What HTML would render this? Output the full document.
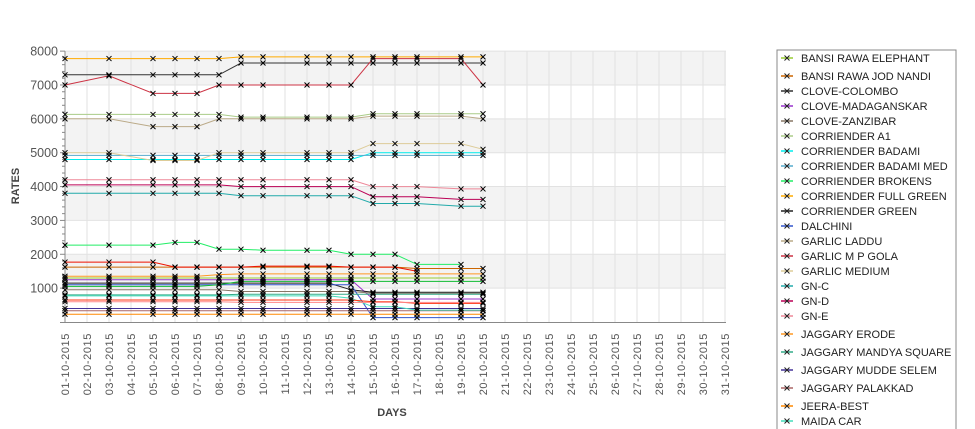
<!DOCTYPE html>
<html><head><meta charset="utf-8">
<style>
html,body{margin:0;padding:0;background:#fff;}
svg{display:block;font-family:"Liberation Sans","DejaVu Sans",sans-serif;}
</style></head>
<body>
<svg id="chart" width="975" height="429" viewBox="0 0 975 429" xmlns="http://www.w3.org/2000/svg">
  <g id="bands"></g>
  <g id="grid"></g>
  <g id="yaxis"></g>
  <g id="xaxis"></g>
  <g id="series"></g>
  <text x="19" y="186" transform="rotate(-90 19 186)" text-anchor="middle" font-size="11" font-weight="bold" fill="#444">RATES</text>
  <text x="392" y="416" text-anchor="middle" font-size="11" font-weight="bold" fill="#444">DAYS</text>
  <rect x="777" y="50" width="179" height="390" fill="#fff" stroke="#888" stroke-width="1"/>
  <g id="legend"></g>
</svg>
<script>
const dayLabels = ["01-10-2015","02-10-2015","03-10-2015","04-10-2015","05-10-2015","06-10-2015","07-10-2015","08-10-2015","09-10-2015","10-10-2015","11-10-2015","12-10-2015","13-10-2015","14-10-2015","15-10-2015","16-10-2015","17-10-2015","18-10-2015","19-10-2015","20-10-2015","21-10-2015","22-10-2015","23-10-2015","24-10-2015","25-10-2015","26-10-2015","27-10-2015","28-10-2015","29-10-2015","30-10-2015","31-10-2015"];
const dataDays = [1,3,5,6,7,8,9,10,12,13,14,15,16,17,19,20];
const yTicks = [1000,2000,3000,4000,5000,6000,7000,8000];
const seriesNames = ["BANSI RAWA ELEPHANT","BANSI RAWA JOD NANDI","CLOVE-COLOMBO","CLOVE-MADAGANSKAR","CLOVE-ZANZIBAR","CORRIENDER A1","CORRIENDER BADAMI","CORRIENDER BADAMI MED","CORRIENDER BROKENS","CORRIENDER FULL GREEN","CORRIENDER GREEN","DALCHINI","GARLIC LADDU","GARLIC M P GOLA","GARLIC MEDIUM","GN-C","GN-D","GN-E","JAGGARY ERODE","JAGGARY MANDYA SQUARE","JAGGARY MUDDE SELEM","JAGGARY PALAKKAD","JEERA-BEST","MAIDA CAR","EXTRA-1","EXTRA-2","EXTRA-3","EXTRA-4"];
const seriesColors = ["#99cc33","#cc6600","#333333","#9933cc","#887766","#aacc88","#00eeee","#55aacc","#22ee66","#ffaa00","#222222","#3355cc","#bbaa88","#cc3344","#ddcc99","#22aaaa","#bb0055","#ee8899","#ff9922","#33aa88","#443399","#aa6666","#ff8800","#44ddbb","#ee1100","#ff3311","#11bb33","#ff8888"];
const v01 = [1300,1300,1300,1300,1300,1300,1300,1300,1300,1300,1300,1300,1300,1300,1300,1300];
const v02 = [1620,1620,1620,1620,1620,1620,1620,1620,1620,1620,1620,1620,1620,1580,1580,1580];
const v03 = [7300,7300,7300,7300,7300,7300,7650,7650,7650,7650,7650,7650,7650,7650,7650,7650];
const v04 = [1250,1250,1250,1250,1250,1250,1250,1250,1250,1250,1250,680,680,680,680,680];
const v05 = [950,950,950,950,950,950,900,900,900,900,900,850,850,850,850,850];
const v06 = [6130,6130,6130,6130,6130,6130,6050,6050,6050,6050,6050,6150,6150,6150,6150,6150];
const v07 = [4800,4800,4800,4800,4800,4800,4800,4800,4800,4800,4800,5000,5000,5000,5000,5000];
const v08 = [4920,4920,4920,4920,4920,4920,4920,4920,4920,4920,4920,4920,4920,4920,4920,4920];
const v09 = [2270,2270,2270,2350,2350,2150,2150,2120,2120,2120,2000,2000,2000,1700,1700,null];
const v10 = [7780,7780,7780,7780,7780,7780,7830,7830,7830,7830,7830,7830,7830,7830,7830,7830];
const v11 = [1150,1150,1150,1150,1150,1150,1150,1150,1150,1150,950,880,880,880,880,880];
const v12 = [1100,1100,1100,1100,1100,1100,1100,1100,1100,1100,1100,130,130,130,130,130];
const v13 = [6000,6000,5770,5770,5770,6000,6000,6000,6000,6000,6000,6080,6080,6080,6080,6000];
const v14 = [7000,7270,6750,6750,6750,7000,7000,7000,7000,7000,7000,7780,7780,7780,7780,7000];
const v15 = [5000,5000,4770,4770,4770,5000,5000,5000,5000,5000,5000,5270,5270,5270,5270,5100];
const v16 = [3800,3800,3800,3800,3800,3800,3730,3730,3730,3730,3730,3500,3500,3500,3420,3420];
const v17 = [4050,4050,4050,4050,4050,4050,4000,4000,4000,4000,4000,3700,3700,3700,3620,3620];
const v18 = [4200,4200,4200,4200,4200,4200,4200,4200,4200,4200,4200,4000,4000,4000,3930,3930];
const v19 = [1350,1350,1350,1350,1350,1400,1420,1420,1420,1420,1420,1420,1420,1420,1420,1420];
const v20 = [800,800,800,800,800,800,820,820,820,820,820,820,820,820,820,820];
const v21 = [400,400,400,400,400,400,400,400,400,400,400,400,400,400,400,400];
const v22 = [330,330,330,330,330,330,330,330,330,330,330,330,330,330,330,330];
const v23 = [230,230,230,230,230,230,230,230,230,230,230,230,230,230,230,230];
const v24 = [770,770,770,770,770,770,770,770,770,770,700,450,450,350,350,350];
const v25 = [1770,1770,1770,1620,1620,1620,1620,1650,1650,1650,1620,1620,1620,1500,null,null];
const v26 = [650,650,650,650,650,650,650,650,650,650,650,600,600,550,550,550];
const v27 = [1050,1050,1050,1050,1050,1100,1200,1200,1200,1200,1200,1200,1200,1200,1200,1200];
const v28 = [600,600,600,600,600,600,580,580,580,580,580,580,580,580,580,580];
const seriesValues = [v01,v02,v03,v04,v05,v06,v07,v08,v09,v10,v11,v12,v13,v14,v15,v16,v17,v18,v19,v20,v21,v22,v23,v24,v25,v26,v27,v28];

const NS = "http://www.w3.org/2000/svg";
const X0 = 65, DX = 22, YB = 322, YK = 0.03386, XR = 726;
function xs(d){ return X0 + (d-1)*DX; }
function ys(v){ return YB - v*YK; }
function mk(tag, attrs, parent){ const e = document.createElementNS(NS, tag); for (const k in attrs) e.setAttribute(k, attrs[k]); parent.appendChild(e); return e; }

const bands = document.getElementById('bands');
const bg = mk('rect',{x:X0,y:ys(8000),width:XR-X0,height:YB-ys(8000),fill:'#fff'},bands);


for (let i=1;i<yTicks.length;i+=2){
  const r = mk('rect',{x:X0,y:ys(yTicks[i]),width:XR-X0,height:ys(yTicks[i-1])-ys(yTicks[i]),fill:'#f3f3f3'},bands);
  
  
}
const grid = document.getElementById('grid');
for (let d=2; d<=dayLabels.length; d++){
  const l = mk('line',{x1:xs(d),x2:xs(d),y1:ys(8000),y2:YB,stroke:'#e2e2e2','stroke-width':1},grid);
  
  
}
yTicks.forEach(t=>{
  const l = mk('line',{x1:X0,x2:XR,y1:ys(t),y2:ys(t),stroke:'#e2e2e2','stroke-width':1},grid);
  
  
});
const yax = document.getElementById('yaxis');
const ya = mk('line',{x1:X0,x2:X0,y1:ys(8000),y2:YB,stroke:'#888'},yax);


for (let v=200; v<=8000; v+=200){
  const major = v%1000===0;
  mk('line',{x1:major?X0-5:X0-3,x2:X0,y1:ys(v),y2:ys(v),stroke:'#888'},yax);
}
yTicks.forEach(t=>{
  const tx = mk('text',{x:X0-7,y:ys(t)+4.5,'text-anchor':'end','font-size':12.5,fill:'#555'},yax);
  
  
  tx.textContent = t;
});
const xax = document.getElementById('xaxis');
const xa = mk('line',{x1:X0-5,x2:XR,y1:YB+0.5,y2:YB+0.5,stroke:'#888'},xax);


dayLabels.forEach((lab,i)=>{
  const x = xs(i+1)+4, y = 333;
  const tx = mk('text',{x:x,y:y,transform:`rotate(-90 ${x} ${y})`,'text-anchor':'end','font-size':11,fill:'#555','letter-spacing':'0.6'},xax);
  
  
  tx.textContent = lab;
});
const sg = document.getElementById('series');
seriesValues.forEach((vals,si)=>{
  const g = mk('g',{},sg);
  
  
  let d = '', pen = false;
  vals.forEach((v,i)=>{
    if (v===null){ pen=false; return; }
    d += (pen?'L':'M') + xs(dataDays[i]) + ' ' + ys(v).toFixed(1) + ' ';
    pen = true;
  });
  const p = mk('path',{d:d,fill:'none',stroke:seriesColors[si],'stroke-width':1},g);
  
  
});
seriesValues.forEach((vals)=>{
  vals.forEach((v,i)=>{
    if (v===null) return;
    const x = xs(dataDays[i]), y = ys(v);
    const m = mk('path',{d:`M${x-2.5} ${y-2.5}L${x+2.5} ${y+2.5}M${x-2.5} ${y+2.5}L${x+2.5} ${y-2.5}`,stroke:'#000','stroke-width':1},sg);
    
    
  });
});
const legendY = [58,76,91,106,121,136,151,166,181,196,211,226,241,256,271,286,301,316,334,352,370,388,406,421];
const lg = document.getElementById('legend');
legendY.forEach((y,i)=>{
  const g = mk('g',{},lg);
  
  
  mk('line',{x1:781,x2:793,y1:y,y2:y,stroke:seriesColors[i],'stroke-width':1.5},g);
  mk('path',{d:`M${784.5} ${y-2.5}L${789.5} ${y+2.5}M${784.5} ${y+2.5}L${789.5} ${y-2.5}`,stroke:'#222','stroke-width':1},g);
  const t = mk('text',{x:801,y:y+4,'font-size':11,fill:'#222'},g);
  t.textContent = seriesNames[i];
});
</script>
</body></html>
